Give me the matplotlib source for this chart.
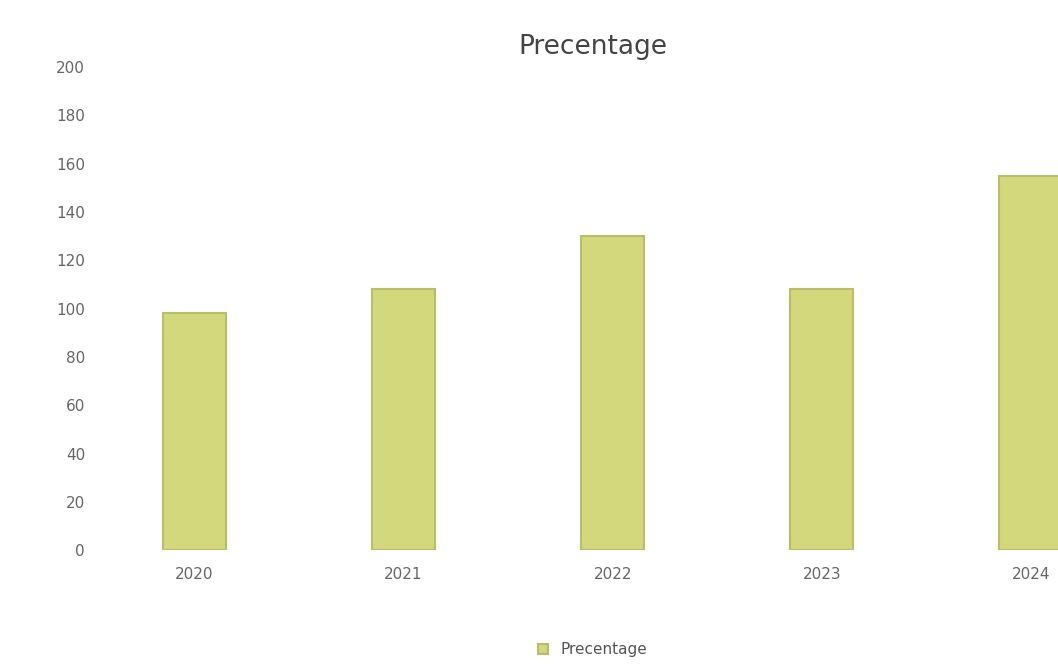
import matplotlib.pyplot as plt

# datos
years = ['2020', '2021', '2022', '2023', '2024']
precentage = [98, 108, 130, 108, 155]
yticks = [0, 20, 40, 60, 80, 100, 120, 140, 160, 180, 200]

fig = plt.figure(figsize=(10.58, 6.71), dpi=100)
ax = fig.add_axes([0.085, 0.18, 0.915, 0.72])

bars = ax.bar(range(len(years)), precentage, width=0.3, color='#d3d87c',
              edgecolor='#b9be6a', linewidth=1.5, label='Precentage')

ax.set_xlim(-0.5, 4.13)
ax.set_ylim(0, 200)
ax.set_yticks(yticks)
ax.set_xticks(range(len(years)))
ax.set_xticklabels(years)
ax.tick_params(length=0, colors='#666666', labelsize=11)
ax.tick_params(axis='x', pad=12)
for s in ax.spines.values():
    s.set_visible(False)

fig.suptitle('Precentage', x=0.56, y=0.95, fontsize=19, color='#444444')
fig.legend(loc='lower center', bbox_to_anchor=(0.56, 0.0), frameon=False,
           fontsize=11, handlelength=0.7, handleheight=0.7, labelcolor='#555555')

plt.savefig('out.png')
